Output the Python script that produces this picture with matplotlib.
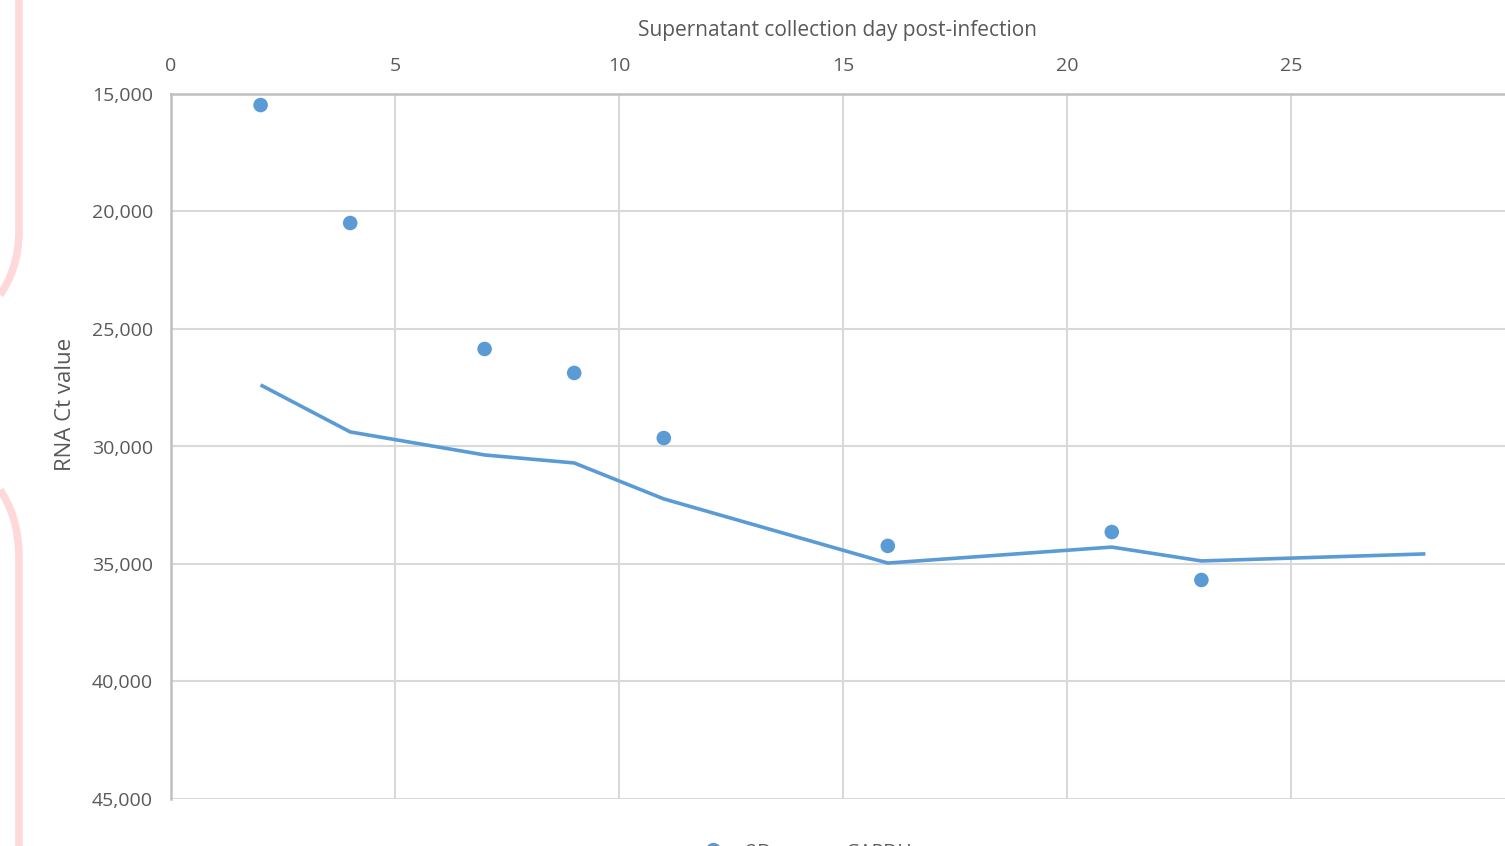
import matplotlib
matplotlib.use("Agg")
import matplotlib.pyplot as plt
from matplotlib.path import Path
from matplotlib.patches import PathPatch
from matplotlib.ticker import FuncFormatter
from matplotlib.lines import Line2D

plt.rcParams['font.family'] = ['Open Sans', 'DejaVu Sans']

# data
days = [2, 4, 7, 9, 11, 16, 21, 23]
ct_2d = [15470, 20490, 25850, 26870, 29640, 34230, 33640, 35680]

gapdh_days = [2, 4, 7, 9, 11, 16, 21, 23, 28]
ct_gapdh = [27380, 29380, 30360, 30700, 32230, 34960, 34280, 34870, 34570]

y_ticks = [15000, 20000, 25000, 30000, 35000, 40000, 45000]
x_ticks = [0, 5, 10, 15, 20, 25]

blue = '#5b9bd5'
grid_c = '#d9d9d9'
text_c = '#595959'

W, H = 1505, 846
fig = plt.figure(figsize=(W / 100, H / 100), dpi=100)
ax = fig.add_axes([171 / W, 1 - 799 / H, (W - 171) / W, (799 - 94) / H])

ax.plot(gapdh_days, ct_gapdh, color=blue, lw=2.6, solid_capstyle='butt', zorder=3)
ax.scatter(days, ct_2d, s=110, color=blue, edgecolor='none', zorder=4)

ax.set_xlim(0, (W - 171) / 44.8)
ax.set_ylim(45000, 15000)
ax.set_xticks(x_ticks)
ax.set_yticks(y_ticks)
ax.yaxis.set_major_formatter(FuncFormatter(lambda v, p: f"{int(v):,}"))
ax.xaxis.tick_top()
ax.xaxis.set_label_position('top')
ax.tick_params(length=0, labelsize=14, colors=text_c)
ax.tick_params(axis='x', pad=14)
ax.tick_params(axis='y', pad=13)
ax.grid(True, color=grid_c, lw=1.5)
ax.set_axisbelow(True)
for side in ['right', 'bottom']:
    ax.spines[side].set_visible(False)
for side in ['left', 'top']:
    ax.spines[side].set_color('#bfbfbf')
    ax.spines[side].set_linewidth(1.8)

ax.set_xlabel('Supernatant collection day post-infection', fontsize=15,
              color=text_c, labelpad=15)
ax.set_ylabel('RNA Ct value', fontsize=16, color=text_c)
ax.yaxis.set_label_coords(-0.071, 0.559)

# legend, mostly cut off by the bottom edge
handles = [Line2D([], [], marker='o', ls='none', color=blue, markersize=10),
           Line2D([], [], color=blue, lw=2.6)]
fig.legend(handles, ['2D', 'GAPDH'], loc='upper center',
           bbox_to_anchor=(0.534, 13 / H), ncol=2, frameon=False, borderpad=0,
           fontsize=14, labelcolor=text_c, columnspacing=1.2, handlelength=1.8)

# pink decorative arcs on the left edge
pink = '#ffd9d9'
verts1 = [(19, 0), (19, 230), (19, 260), (10, 280), (0, 295)]
codes1 = [Path.MOVETO, Path.LINETO, Path.CURVE4, Path.CURVE4, Path.CURVE4]
verts2 = [(0, 490), (10, 505), (19, 525), (19, 560), (19, 846)]
codes2 = [Path.MOVETO, Path.CURVE4, Path.CURVE4, Path.CURVE4, Path.LINETO]
for v, c in [(verts1, codes1), (verts2, codes2)]:
    v = [(x / W, 1 - y / H) for x, y in v]
    fig.patches.append(PathPatch(Path(v, c), transform=fig.transFigure,
                                 fill=False, edgecolor=pink, lw=5.5))

fig.savefig('out.png', dpi=100)
